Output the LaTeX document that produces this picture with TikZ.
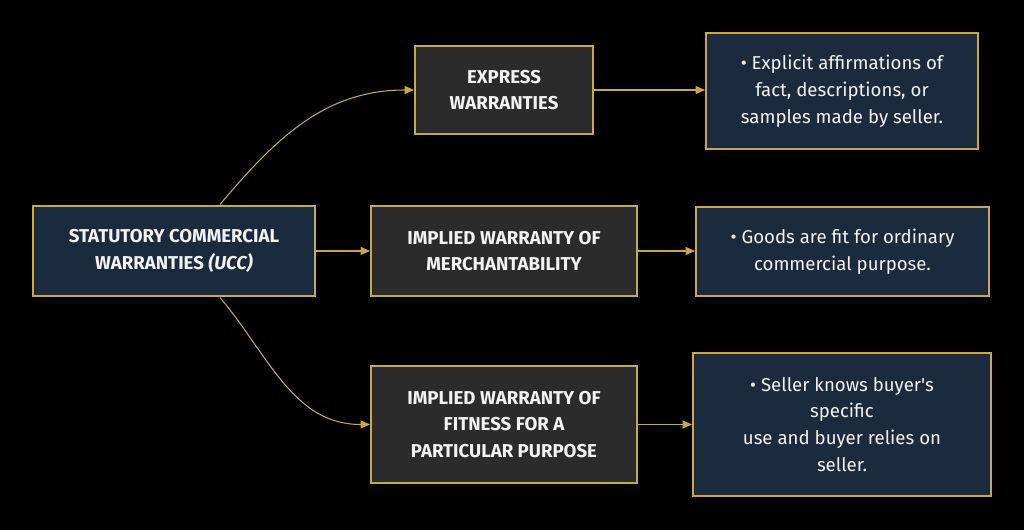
\documentclass[tikz,border=0pt]{standalone}
\usepackage{fontspec}
\setmainfont{Fira Sans}
\usetikzlibrary{arrows.meta}

\definecolor{gold}{HTML}{C8A84C}
\definecolor{navy}{HTML}{1C2A3E}
\definecolor{charcoal}{HTML}{2B2B2B}
\definecolor{paper}{HTML}{F2F2F2}

\tikzset{
    rootbox/.style={draw=gold, line width=1.7pt, fill=navy, text=paper, align=center,
        inner sep=0pt, font=\fontsize{10.6}{15.3}\selectfont\bfseries},
    kindbox/.style={draw=gold, line width=1.1pt, fill=charcoal, text=paper, align=center,
        inner sep=0pt, font=\fontsize{10.6}{15.3}\selectfont\bfseries},
    notebox/.style={draw=gold, line width=1.1pt, fill=navy, text=paper, align=center,
        inner sep=0pt, font=\fontsize{10.6}{15.3}\selectfont},
    link/.style={draw=gold, line width=0.6pt, -{Triangle[length=1.9mm, width=1.6mm]}}
}

\begin{document}
\begin{tikzpicture}

    \fill[black] (0,0) rectangle (20.48,-10.6);
    \useasboundingbox (0,0) rectangle (20.48,-10.6);

    \node[rootbox, minimum width=5.64cm, minimum height=1.8cm] (statutory) at (3.48,-5.02)
        {STATUTORY COMMERCIAL\\WARRANTIES \textit{(UCC)}};

    \node[kindbox, minimum width=3.56cm, minimum height=1.76cm] (express) at (10.08,-1.8)
        {EXPRESS\\WARRANTIES};
    \node[kindbox, minimum width=5.32cm, minimum height=1.8cm] (merchant) at (10.08,-5.02)
        {IMPLIED WARRANTY OF\\MERCHANTABILITY};
    \node[kindbox, minimum width=5.32cm, minimum height=2.34cm] (fitness) at (10.08,-8.49)
        {IMPLIED WARRANTY OF\\FITNESS FOR A\\PARTICULAR PURPOSE};

    \node[notebox, minimum width=5.44cm, minimum height=2.32cm] (explicit) at (16.84,-1.82)
        {• Explicit affirmations of\\fact, descriptions, or\\samples made by seller.};
    \node[notebox, minimum width=5.86cm, minimum height=1.78cm] (ordinary) at (16.85,-5.03)
        {• Goods are fit for ordinary\\commercial purpose.};
    \node[notebox, minimum width=5.96cm, minimum height=2.86cm] (relies) at (16.84,-8.49)
        {• Seller knows buyer\textquotesingle s\\specific\\use and buyer relies on\\seller.};

    \draw[link] ([xshift=0.92cm]statutory.north) to[out=50, in=180] (express.west);
    \draw[link] (statutory.east) -- (merchant.west);
    \draw[link] ([xshift=0.92cm]statutory.south) to[out=-50, in=180] (fitness.west);

    \draw[link] (express.east) -- (express.east -| explicit.west);
    \draw[link] (merchant.east) -- (merchant.east -| ordinary.west);
    \draw[link] (fitness.east) -- (fitness.east -| relies.west);

\end{tikzpicture}
\end{document}
